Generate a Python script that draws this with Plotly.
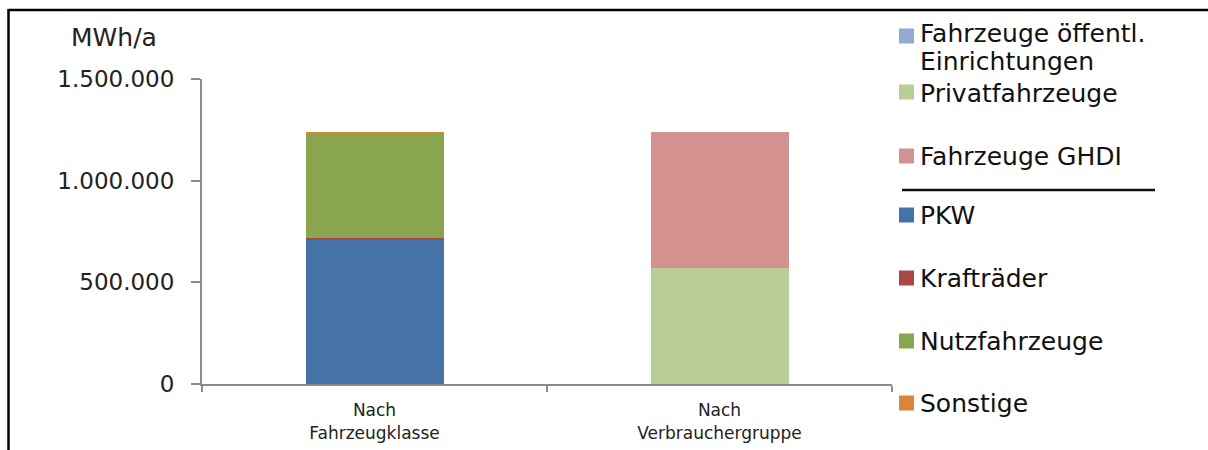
import plotly.graph_objects as go

# Energy demand of road traffic, split two ways (MWh/a)
categories = ["Nach<br>Fahrzeugklasse", "Nach<br>Verbrauchergruppe"]

# By vehicle class (left column)
pkw = [710000, None]
kraftraeder = [10000, None]
nutzfahrzeuge = [508000, None]
sonstige = [10000, None]

# By consumer group (right column)
privatfahrzeuge = [None, 572000]
ghdi = [None, 666000]
oeffentl = [None, 0]

y_ticks = [0, 500000, 1000000, 1500000]

W, H = 1208, 450
L, R, T, B = 202, 892, 79, 384  # plot area in pixels


def px(x):
    return (x - L) / (R - L)


def py(y):
    return (B - y) / (B - T)


series = [
    ("PKW", pkw, "#4572A7"),
    ("Krafträder", kraftraeder, "#AA4643"),
    ("Nutzfahrzeuge", nutzfahrzeuge, "#89A54E"),
    ("Sonstige", sonstige, "#DB843D"),
    ("Privatfahrzeuge", privatfahrzeuge, "#B9CD96"),
    ("Fahrzeuge GHDI", ghdi, "#D39290"),
    ("Fahrzeuge öffentl.<br>Einrichtungen", oeffentl, "#95AAD2"),
]

fig = go.Figure()
for name, vals, color in series:
    fig.add_trace(go.Bar(
        x=categories, y=vals, name=name, marker=dict(color=color, line=dict(width=0)),
        showlegend=False,
    ))

FONT = "DejaVu Sans"
LINE_STEP = 28  # pixel distance between wrapped legend lines

# Legend drawn beside the plot: (series index, square centre y, text top y)
legend_rows = [
    (6, 36, 17),
    (4, 92, 77),
    (5, 156, 140),
    (0, 215, 199),
    (1, 278, 262),
    (2, 341, 325),
    (3, 403, 387),
]
shapes = []
annotations = []
for idx, cy, ty in legend_rows:
    name, _, color = series[idx]
    shapes.append(dict(type="rect", xref="paper", yref="paper",
                       x0=px(899), x1=px(914), y0=py(cy + 7.5), y1=py(cy - 7.5),
                       fillcolor=color, line=dict(width=0)))
    for k, line in enumerate(name.split("<br>")):
        annotations.append(dict(xref="paper", yref="paper", x=px(918),
                                y=py(ty + k * LINE_STEP),
                                xanchor="left", yanchor="top", align="left",
                                text=line, showarrow=False,
                                font=dict(family=FONT, size=25, color="#111111")))

# separator between the two legend groups
shapes.append(dict(type="line", xref="paper", yref="paper",
                   x0=px(902), x1=px(1155), y0=py(190), y1=py(190),
                   line=dict(color="#111111", width=2.5)))
# outer frame (top and left edges)
shapes.append(dict(type="line", xref="paper", yref="paper",
                   x0=px(8.5), x1=px(1210), y0=py(10), y1=py(10),
                   line=dict(color="#000000", width=2.5)))
shapes.append(dict(type="line", xref="paper", yref="paper",
                   x0=px(8.5), x1=px(8.5), y0=py(9), y1=py(452),
                   line=dict(color="#000000", width=2.5)))

# unit label
annotations.append(dict(xref="paper", yref="paper", x=px(114), y=py(38),
                        xanchor="center", yanchor="middle", text="MWh/a",
                        showarrow=False, font=dict(family=FONT, size=25, color="#222222")))

fig.update_layout(
    width=W, height=H,
    margin=dict(l=L, r=W - R, t=T, b=H - B, pad=0),
    barmode="stack", bargap=0.6,
    plot_bgcolor="white", paper_bgcolor="white",
    separators=",.",
    font=dict(family=FONT, color="#222222"),
    shapes=shapes, annotations=annotations,
    xaxis=dict(
        showline=True, linecolor="#8c8c8c", linewidth=2,
        ticks="outside", tickson="boundaries", ticklen=6, tickcolor="#8c8c8c", tickwidth=2,
        tickfont=dict(family=FONT, size=17, color="#222222"),
        ticklabelstandoff=10, automargin=False,
        showgrid=False, zeroline=False, fixedrange=True,
    ),
    yaxis=dict(
        range=[0, 1500000], tickvals=y_ticks, tickformat=",d",
        showline=True, linecolor="#8c8c8c", linewidth=2,
        ticks="outside", ticklen=9, tickcolor="#8c8c8c", tickwidth=2,
        tickfont=dict(family=FONT, size=23, color="#222222"),
        ticklabelstandoff=12, automargin=False,
        showgrid=False, zeroline=False, fixedrange=True,
    ),
)

fig.write_html("out.html")
